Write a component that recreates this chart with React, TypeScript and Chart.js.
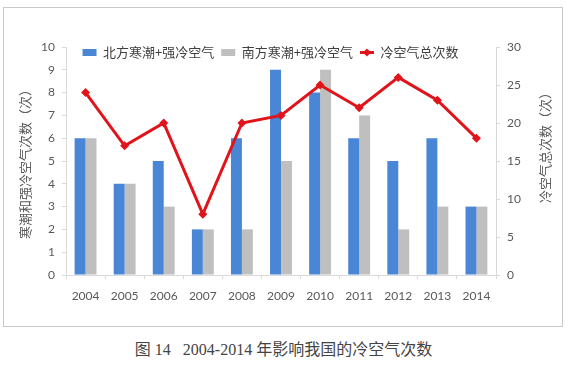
import React, { useEffect, useRef } from "react";
import { Chart, registerables } from "chart.js";

Chart.register(...registerables);

const years = ["2004", "2005", "2006", "2007", "2008", "2009", "2010", "2011", "2012", "2013", "2014"];
const northSeries = [6, 4, 5, 2, 6, 9, 8, 6, 5, 6, 3];
const southSeries = [6, 4, 3, 2, 2, 5, 9, 7, 2, 3, 3];
const totalSeries = [24, 17, 20, 8, 20, 21, 25, 22, 26, 23, 18];
const seriesNames = ["北方寒潮+强冷空气", "南方寒潮+强冷空气", "冷空气总次数"];
const leftAxis = { min: 0, max: 10, step: 1 };
const rightAxis = { min: 0, max: 30, step: 5 };
const leftTitle = "寒潮和强冷空气次数（次）";
const rightTitle = "冷空气总次数（次）";
const caption = "图 14   2004-2014 年影响我国的冷空气次数";

const BLUE = "#4a86d6";
const GRAY = "#bfbfbf";
const RED = "#e2141b";
const AXIS = "#d9d9d9";
const TICK = "#595959";
const CJK = '"Noto Sans CJK SC", sans-serif';
const LEGEND_FONT = 13;
const LEGEND_CENTER_Y = 44.5;
const LEGEND_CENTER_X = 266.5;
const LEGEND_BOX_W = 14;

const customPlugin = {
  id: "customDecor",
  afterLayout(chart: any) {
    const lg = chart.legend;
    if (!lg || !lg.lineWidths) return;
    const pad = lg.options.labels.padding;
    const top = LEGEND_CENTER_Y - pad - LEGEND_FONT / 2;
    const h = lg.height;
    lg.top = top;
    lg.bottom = top + h;
    const span = lg.lineWidths[0] - pad;
    const curStart = (lg.left + pad + lg.right - lg.lineWidths[0]) / 2;
    const shift = LEGEND_CENTER_X - span / 2 - curStart;
    lg.left += shift;
    lg.right += shift;
  },
  afterDraw(chart: any) {
    const ctx = chart.ctx;
    ctx.save();
    ctx.translate(541, 136.5);
    ctx.rotate(-Math.PI / 2);
    ctx.font = "13px " + CJK;
    ctx.fillStyle = TICK;
    ctx.textAlign = "center";
    ctx.textBaseline = "middle";
    ctx.fillText(rightTitle, 0, 0);
    ctx.restore();
    const lg = chart.legend;
    if (lg && lg.legendHitBoxes && lg.legendHitBoxes.length === 3) {
      const pad = lg.options.labels.padding;
      let x = (lg.left + pad + lg.right - lg.lineWidths[0]) / 2;
      x += lg.legendHitBoxes[0].width + pad;
      x += lg.legendHitBoxes[1].width + pad;
      const cx = x + LEGEND_BOX_W / 2;
      const cy = LEGEND_CENTER_Y;
      const r = 4;
      ctx.save();
      ctx.fillStyle = RED;
      ctx.beginPath();
      ctx.moveTo(cx, cy - r);
      ctx.lineTo(cx + r, cy);
      ctx.lineTo(cx, cy + r);
      ctx.lineTo(cx - r, cy);
      ctx.closePath();
      ctx.fill();
      ctx.restore();
    }
  },
};

export default function App() {
  const ref = useRef<HTMLCanvasElement | null>(null);

  useEffect(() => {
    if (!ref.current) return;
    const chart = new Chart(ref.current, {
      type: "bar",
      data: {
        labels: years,
        datasets: [
          {
            type: "bar",
            label: seriesNames[0],
            data: northSeries,
            backgroundColor: BLUE,
            borderWidth: 0,
            yAxisID: "y",
            categoryPercentage: 0.56,
            barPercentage: 1.0,
            order: 1,
          },
          {
            type: "bar",
            label: seriesNames[1],
            data: southSeries,
            backgroundColor: GRAY,
            borderWidth: 0,
            yAxisID: "y",
            categoryPercentage: 0.56,
            barPercentage: 1.0,
            order: 1,
          },
          {
            type: "line",
            label: seriesNames[2],
            data: totalSeries,
            borderColor: RED,
            backgroundColor: RED,
            borderWidth: 3,
            pointStyle: "rectRot",
            pointRadius: 4.5,
            pointBackgroundColor: RED,
            pointBorderWidth: 0,
            yAxisID: "y1",
            tension: 0,
            order: 0,
          },
        ] as any,
      },
      options: {
        animation: false,
        responsive: false,
        devicePixelRatio: 1,
        layout: { padding: { top: 9, left: 0, right: 0, bottom: 0 } },
        plugins: {
          tooltip: { enabled: false },
          legend: {
            display: true,
            position: "top",
            align: "center",
            labels: {
              usePointStyle: true,
              pointStyleWidth: LEGEND_BOX_W,
              boxHeight: 7,
              padding: 7,
              color: "#404040",
              font: { family: CJK, size: LEGEND_FONT },
              sort: (a: any, b: any) => a.datasetIndex - b.datasetIndex,
              generateLabels: (chart: any) => {
                const items = (Chart.defaults.plugins.legend.labels as any).generateLabels(chart);
                return items.map((it: any) => ({
                  ...it,
                  pointStyle: it.datasetIndex === 2 ? "line" : "rect",
                  lineWidth: it.datasetIndex === 2 ? 3 : 0,
                }));
              },
            },
          },
        },
        scales: {
          x: {
            type: "category",
            offset: true,
            grid: {
              display: true,
              offset: true,
              drawOnChartArea: false,
              drawTicks: true,
              tickLength: 4,
              color: AXIS,
            },
            border: { display: true, color: AXIS },
            ticks: { color: TICK, font: { family: "Lato", size: 12 }, padding: 10, maxRotation: 0 },
            afterFit: (s: any) => {
              s.height = 51;
            },
          },
          y: {
            type: "linear",
            position: "left",
            min: leftAxis.min,
            max: leftAxis.max,
            ticks: { stepSize: leftAxis.step, color: TICK, font: { family: "Lato", size: 12 }, padding: 7 },
            grid: { display: true, drawOnChartArea: false, tickLength: 4, color: AXIS },
            border: { display: true, color: AXIS },
            title: {
              display: true,
              text: leftTitle,
              color: TICK,
              font: { family: CJK, size: 13 },
              padding: { top: 13, bottom: 0 },
            },
            afterFit: (s: any) => {
              s.width = 62;
            },
          },
          y1: {
            type: "linear",
            position: "right",
            min: rightAxis.min,
            max: rightAxis.max,
            ticks: { stepSize: rightAxis.step, color: TICK, font: { family: "Lato", size: 12 }, padding: 7 },
            grid: { display: true, drawOnChartArea: false, tickLength: 4, color: AXIS },
            border: { display: true, color: AXIS },
            afterFit: (s: any) => {
              s.width = 66;
            },
          },
        },
      } as any,
      plugins: [customPlugin],
    });
    return () => chart.destroy();
  }, []);

  return (
    <div style={{ position: "fixed", left: 0, top: 0, width: 570, height: 365, background: "#fff" }}>
      <div
        style={{
          position: "absolute",
          left: 3,
          top: 7,
          width: 560,
          height: 320,
          border: "1px solid #c8c8c8",
          boxSizing: "border-box",
          background: "#fff",
        }}
      >
        <canvas ref={ref} width={558} height={318} style={{ display: "block", width: 558, height: 318 }} />
      </div>
      <div
        style={{
          position: "absolute",
          left: 0,
          top: 340,
          width: 567,
          height: 20,
          lineHeight: "20px",
          textAlign: "center",
          whiteSpace: "pre",
          fontFamily: '"Liberation Serif", "Noto Sans CJK SC", serif',
          fontSize: 16,
          color: "#444",
        }}
      >
        {caption}
      </div>
    </div>
  );
}
